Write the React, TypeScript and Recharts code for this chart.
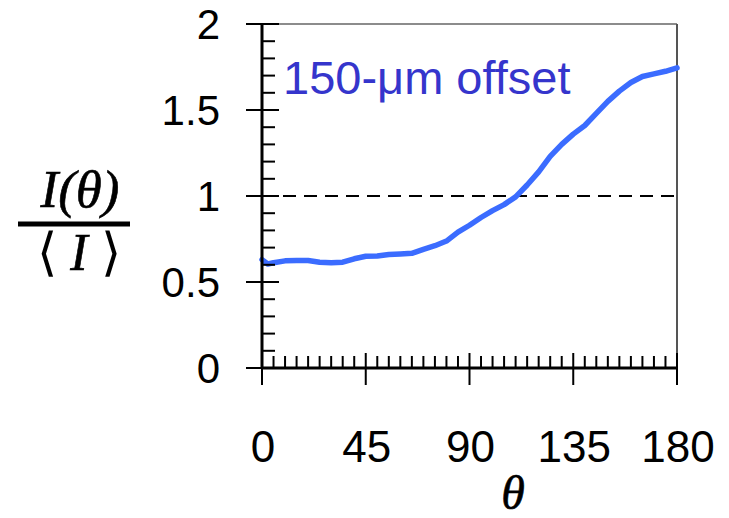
import React from "react";
import { LineChart, Line, XAxis, YAxis, ReferenceLine, Customized } from "recharts";

const thetaValues = [0, 2.5, 5, 10, 15, 20, 25, 30, 35, 40, 45, 50, 55, 60, 65, 70, 75, 80, 85, 90, 95, 100, 105, 110, 115, 120, 125, 130, 135, 140, 145, 150, 155, 160, 165, 170, 175, 180];
const intensityValues = [0.63, 0.605, 0.612, 0.623, 0.625, 0.625, 0.615, 0.612, 0.615, 0.635, 0.65, 0.651, 0.66, 0.663, 0.667, 0.69, 0.711, 0.738, 0.79, 0.83, 0.875, 0.915, 0.95, 0.995, 1.064, 1.14, 1.23, 1.3, 1.36, 1.41, 1.48, 1.55, 1.61, 1.66, 1.695, 1.71, 1.725, 1.745];

const yTicks = Array.from({ length: 21 }, (_, i) => i / 10);
const xTicks = Array.from({ length: 37 }, (_, i) => i * 5);
const yMajorLabels = ["0", "0.5", "1", "1.5", "2"];
const xMajorLabels = ["0", "45", "90", "135", "180"];
const annotation = "150-\u03bcm offset";

const data = thetaValues.map((t, i) => ({ theta: t, intensity: intensityValues[i] }));

const SANS = "'Liberation Sans', Arial, sans-serif";
const SERIF = "'Liberation Serif', 'Times New Roman', serif";

const YTick = (props: any) => {
  const { x, y, payload } = props;
  const v = payload.value;
  const major = Math.abs(v * 2 - Math.round(v * 2)) < 1e-6;
  if (major) {
    const label = yMajorLabels[Math.round(v * 2)];
    return (
      <g>
        <line x1={x - 16} x2={x + 17} y1={y} y2={y} stroke="#000" strokeWidth={2} />
        <text x={220} y={y} textAnchor="end" dominantBaseline="central" fontSize={42} fontFamily={SANS} fill="#000">
          {label}
        </text>
      </g>
    );
  }
  return <line x1={x} x2={x + 13} y1={y} y2={y} stroke="#000" strokeWidth={2} />;
};

const XTick = (props: any) => {
  const { x, y, payload } = props;
  const v = payload.value;
  const major = v % 45 === 0;
  if (major) {
    const label = xMajorLabels[v / 45];
    return (
      <g>
        <line x1={x} x2={x} y1={y - 15} y2={y + 17} stroke="#000" strokeWidth={2} />
        <text x={x + 1} y={y + 78} textAnchor="middle" dominantBaseline="central" fontSize={44} fontFamily={SANS} fill="#000">
          {label}
        </text>
      </g>
    );
  }
  return <line x1={x} x2={x} y1={y} y2={y - 12} stroke="#000" strokeWidth={2} />;
};

const Texts = () => (
  <g>
    <text x={283} y={94} fontSize={47} fontFamily={SANS} fill="#3535cc">
      {annotation}
    </text>
    <text x={80} y={207} textAnchor="middle" fontSize={53} fontFamily={SERIF} fontStyle="italic" fill="#000" stroke="#000" strokeWidth={0.6}>
      I(θ)
    </text>
    <line x1={18} x2={130} y1={224} y2={224} stroke="#000" strokeWidth={5} />
    <text x={79} y={270} textAnchor="middle" fontSize={52} fontFamily={SERIF} fill="#000">
      ⟨ <tspan fontStyle="italic" stroke="#000" strokeWidth={0.6}>I</tspan> ⟩
    </text>
    <text x={513} y={509} textAnchor="middle" fontSize={48} fontFamily={SERIF} fontStyle="italic" fill="#000" stroke="#000" strokeWidth={0.6}>
      θ
    </text>
  </g>
);

export default function App() {
  return (
    <div style={{ position: "absolute", left: 0, top: 0, background: "#fff" }}>
      <LineChart width={729} height={518} data={data} margin={{ top: 24, right: 52, left: 0, bottom: 0 }}>
        <XAxis
          dataKey="theta"
          type="number"
          domain={[0, 180]}
          ticks={xTicks}
          interval={0}
          height={150}
          tickSize={0}
          tickMargin={0}
          tick={<XTick />}
          tickLine={false}
          axisLine={{ stroke: "#000", strokeWidth: 3 }}
        />
        <YAxis
          type="number"
          domain={[0, 2]}
          ticks={yTicks}
          interval={0}
          width={262}
          tickSize={0}
          tickMargin={0}
          tick={<YTick />}
          tickLine={false}
          axisLine={{ stroke: "#000", strokeWidth: 3 }}
        />
        <ReferenceLine y={2} stroke="#666" strokeWidth={1.5} />
        <ReferenceLine x={180} stroke="#555" strokeWidth={2} />
        <ReferenceLine y={1} stroke="#000" strokeWidth={2} strokeDasharray="13 8" />
        <Line
          dataKey="intensity"
          type="linear"
          stroke="#3b6cff"
          strokeWidth={5.5}
          dot={false}
          isAnimationActive={false}
          strokeLinejoin="round"
          strokeLinecap="round"
        />
        <Customized component={Texts} />
      </LineChart>
    </div>
  );
}
